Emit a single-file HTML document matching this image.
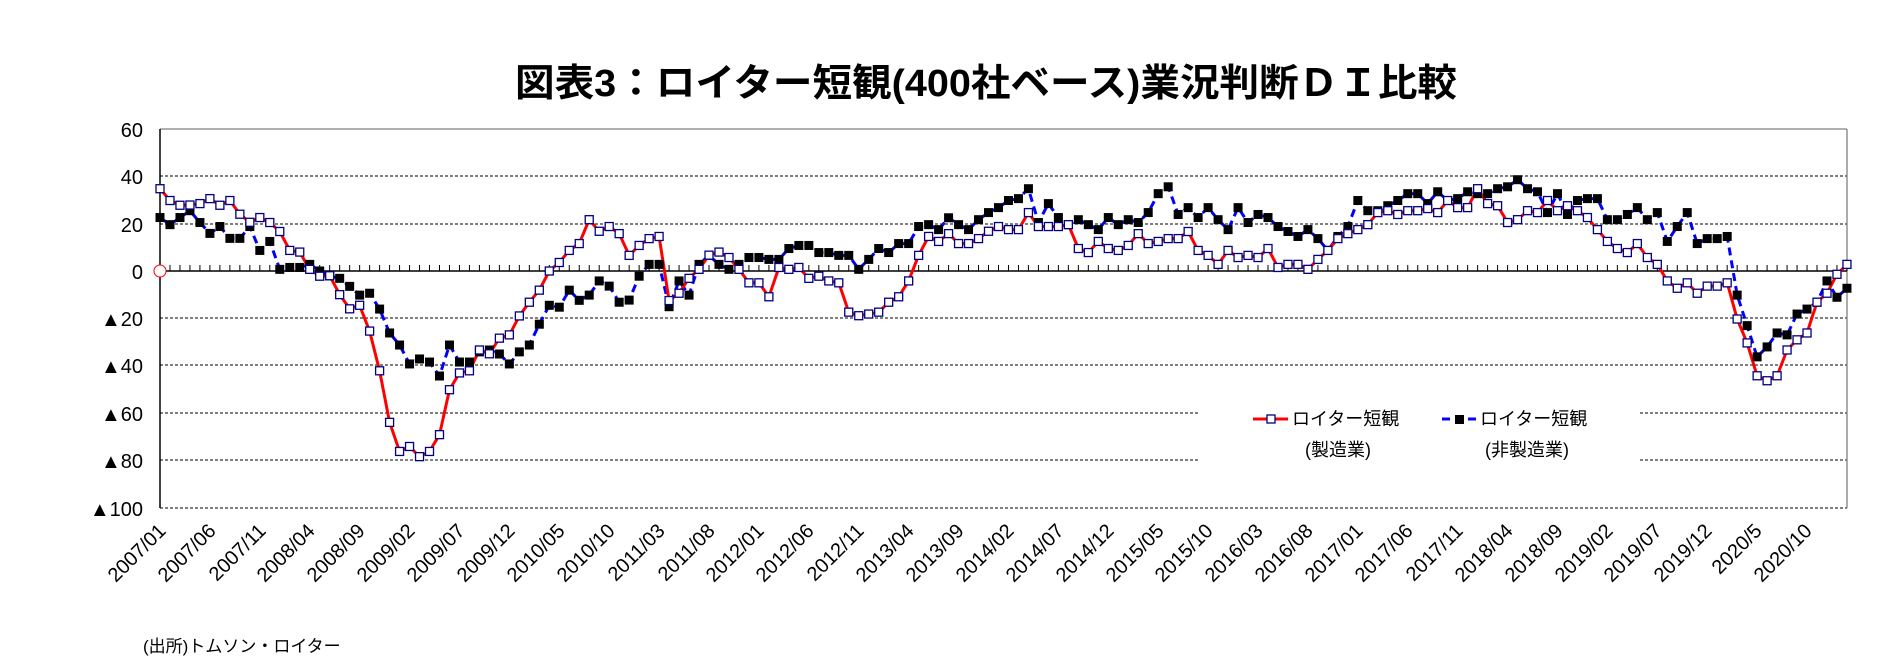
<!DOCTYPE html>
<html><head><meta charset="utf-8"><style>
html,body{margin:0;padding:0;background:#fff;}
svg{display:block;}
text{font-family:"Liberation Sans","Noto Sans CJK JP",sans-serif;}
</style></head><body>
<svg id="c" width="1887" height="658" viewBox="0 0 1887 658" xmlns="http://www.w3.org/2000/svg">
<rect width="1887" height="658" fill="#fff"/>
<text x="515" y="96" font-size="38" font-weight="bold" textLength="942" lengthAdjust="spacingAndGlyphs">図表3：ロイター短観(400社ベース)業況判断ＤＩ比較</text>
<g stroke="#000" stroke-width="1" stroke-dasharray="3,2">
<line x1="160" y1="176" x2="1847" y2="176"/>
<line x1="160" y1="224" x2="1847" y2="224"/>
<line x1="160" y1="318" x2="1847" y2="318"/>
<line x1="160" y1="365" x2="1847" y2="365"/>
<line x1="160" y1="413" x2="1847" y2="413"/>
<line x1="160" y1="460" x2="1847" y2="460"/>
<line x1="160" y1="508" x2="1847" y2="508"/>
</g>
<rect x="1200" y="400" width="440" height="75" fill="#fff"/>
<line x1="160" y1="129" x2="1847" y2="129" stroke="#808080" stroke-width="1.3"/>
<line x1="1847" y1="129" x2="1847" y2="508" stroke="#808080" stroke-width="1.3"/>
<line x1="160" y1="129" x2="160" y2="508" stroke="#000" stroke-width="1.5"/>
<line x1="160" y1="271" x2="1847" y2="271" stroke="#000" stroke-width="1.5"/>
<g id="ticks" stroke="#000" stroke-width="1"></g>
<g font-size="20" text-anchor="end" fill="#000">
<text x="143" y="137">60</text>
<text x="143" y="184">40</text>
<text x="143" y="232">20</text>
<text x="143" y="279">0</text>
<text x="143" y="326">▲20</text>
<text x="143" y="373">▲40</text>
<text x="143" y="421">▲60</text>
<text x="143" y="468">▲80</text>
<text x="143" y="516">▲100</text>
</g>
<g id="series"></g>
<circle cx="160" cy="271" r="6" fill="#fff" stroke="#f00" stroke-width="1"/>
<g font-size="20" text-anchor="end" fill="#000" id="xl">
<text transform="translate(167,532) rotate(-45)">2007/01</text>
<text transform="translate(217,532) rotate(-45)">2007/06</text>
<text transform="translate(267,532) rotate(-45)">2007/11</text>
<text transform="translate(316,532) rotate(-45)">2008/04</text>
<text transform="translate(366,532) rotate(-45)">2008/09</text>
<text transform="translate(416,532) rotate(-45)">2009/02</text>
<text transform="translate(466,532) rotate(-45)">2009/07</text>
<text transform="translate(516,532) rotate(-45)">2009/12</text>
<text transform="translate(566,532) rotate(-45)">2010/05</text>
<text transform="translate(616,532) rotate(-45)">2010/10</text>
<text transform="translate(666,532) rotate(-45)">2011/03</text>
<text transform="translate(716,532) rotate(-45)">2011/08</text>
<text transform="translate(765,532) rotate(-45)">2012/01</text>
<text transform="translate(815,532) rotate(-45)">2012/06</text>
<text transform="translate(865,532) rotate(-45)">2012/11</text>
<text transform="translate(915,532) rotate(-45)">2013/04</text>
<text transform="translate(965,532) rotate(-45)">2013/09</text>
<text transform="translate(1015,532) rotate(-45)">2014/02</text>
<text transform="translate(1065,532) rotate(-45)">2014/07</text>
<text transform="translate(1115,532) rotate(-45)">2014/12</text>
<text transform="translate(1165,532) rotate(-45)">2015/05</text>
<text transform="translate(1214,532) rotate(-45)">2015/10</text>
<text transform="translate(1264,532) rotate(-45)">2016/03</text>
<text transform="translate(1314,532) rotate(-45)">2016/08</text>
<text transform="translate(1364,532) rotate(-45)">2017/01</text>
<text transform="translate(1414,532) rotate(-45)">2017/06</text>
<text transform="translate(1464,532) rotate(-45)">2017/11</text>
<text transform="translate(1514,532) rotate(-45)">2018/04</text>
<text transform="translate(1564,532) rotate(-45)">2018/09</text>
<text transform="translate(1614,532) rotate(-45)">2019/02</text>
<text transform="translate(1663,532) rotate(-45)">2019/07</text>
<text transform="translate(1713,532) rotate(-45)">2019/12</text>
<text transform="translate(1763,532) rotate(-45)">2020/5</text>
<text transform="translate(1813,532) rotate(-45)">2020/10</text>
</g>
<g font-size="18" fill="#000">
<line x1="1253" y1="419" x2="1288" y2="419" stroke="#f00" stroke-width="3"/>
<rect x="1267" y="415" width="8" height="8" fill="#fff" stroke="#000080" stroke-width="1.3"/>
<text x="1292" y="425">ロイター短観</text>
<text x="1338" y="456" text-anchor="middle">(製造業)</text>
<line x1="1442" y1="419" x2="1476" y2="419" stroke="#00f" stroke-width="3" stroke-dasharray="8,5"/>
<rect x="1455" y="415" width="9" height="9" fill="#000"/>
<text x="1480" y="425">ロイター短観</text>
<text x="1527" y="456" text-anchor="middle">(非製造業)</text>
</g>
<text x="143" y="652" font-size="17" fill="#000">(出所)トムソン・ロイター</text>
</svg>
<script>
var M=[34.8,29.8,27.8,27.9,28.5,30.6,27.8,29.8,24,20.6,22.6,20.5,16.7,8.7,8,0.7,-2.2,-2,-10,-16,-14.5,-25.4,-42.2,-64,-76.3,-74.2,-78.5,-76.3,-69.2,-50.2,-43.1,-42.2,-33.4,-35,-28.4,-27,-19,-13.2,-8.1,0,3.6,8.7,11.6,
21.7,16.8,18.8,15.8,6.6,10.8,13.7,14.6,-12.5,-9.4,-3.1,0.7,6.7,8,5.7,0.7,-5,-5,-10.9,1.5,0.7,1.5,-3.1,-2.2,-4.2,-5,-17.4,-18.9,-18.2,-17.4,-13.2,-10.9,-4.2,6.6,14.6,12.5,15.8,11.6,11.6,13.7,16.8,18.8,
17.5,17.5,24.7,18.8,18.8,18.8,19.6,9.5,7.8,12.5,9.5,8.7,10.8,15.8,11.6,12.5,13.7,13.7,16.7,8.7,6.6,2.8,8.7,5.7,6.6,5.7,9.5,1.5,2.8,2.8,0.7,4.9,8.7,13.7,15.8,17.5,19.6,24.7,25.5,23.9,25.5,25.5,
26.4,24.7,29.8,26.8,26.8,34.8,28.5,27.6,20.5,21.7,25.5,24.7,29.8,25.5,27.6,25.5,22.6,17.5,12.5,9.5,7.8,11.6,5.7,2.8,-4.2,-7.3,-5,-9.4,-6.4,-6.4,-5,-20.3,-30.4,-44.3,-46.4,-44.3,-33.4,-29.1,-26.2,-13.2,-9.4,-1.4,2.8];
var N=[22.6,19.6,22.6,25.5,20.5,15.9,18.8,13.8,13.8,18.8,8.7,12.5,0.7,1.5,1.5,2.8,0,-2.1,-3.1,-6.5,-10.2,-9.4,-16.1,-26.2,-31.3,-39.3,-37.2,-38.5,-44.4,-31.3,-38.5,-38.5,-34.2,-33.4,-35.1,-39.3,-34.2,-31.3,-22.5,-14.5,-15.3,-8.1,-12.4,
-10.2,-4.2,-6.4,-13.2,-12.3,-2.2,2.8,2.8,-15.1,-4.2,-10.2,2.8,6.6,2.8,0.7,2.8,5.7,5.7,4.9,4.9,9.5,10.8,10.8,7.8,7.8,6.6,6.6,0.7,4.9,9.5,7.8,11.6,11.6,18.8,19.6,17.5,22.5,19.6,17.5,21.7,24.7,26.8,
29.8,30.6,34.8,20.5,28.5,22.6,19.6,21.7,19.6,17.5,22.6,19.6,21.7,20.5,24.7,32.7,35.6,23.9,26.8,22.6,26.8,21.7,17.5,26.8,20.5,23.9,22.6,18.8,16.7,14.6,17.5,13.7,8.7,14.6,18.8,29.8,25.5,25.5,27.6,29.8,32.7,32.7,
28.5,33.5,29.8,30.6,33.5,32.7,32.7,34.8,35.6,38.6,34.8,33.5,24.7,32.7,23.9,29.8,30.6,30.6,21.7,21.7,23.9,26.8,21.7,24.7,12.5,18.8,24.7,11.6,13.7,13.7,14.6,-10.2,-23.1,-36.3,-32.1,-26.2,-27,-18.2,-16.1,-13.2,-4.2,-11.1,-7.3];
var NS="http://www.w3.org/2000/svg";
function X(i){return 160+i*9.982;}function Y(v){return 271-v*2.365;}
var t=document.getElementById("ticks");
for(var i=0;i<170;i++){var l=document.createElementNS(NS,"line");l.setAttribute("x1",X(i));l.setAttribute("x2",X(i));l.setAttribute("y1",265);l.setAttribute("y2",271);t.appendChild(l);}
var g=document.getElementById("series");
function pl(d,col,dash){var p="";for(var i=0;i<d.length;i++)p+=X(i).toFixed(1)+","+Y(d[i]).toFixed(1)+" ";var e=document.createElementNS(NS,"polyline");e.setAttribute("points",p);e.setAttribute("fill","none");e.setAttribute("stroke",col);e.setAttribute("stroke-width","3");if(dash)e.setAttribute("stroke-dasharray",dash);g.appendChild(e);}
pl(N,"#00f","8,5");pl(M,"#f00",null);
for(var i=0;i<N.length;i++){var r=document.createElementNS(NS,"rect");r.setAttribute("x",X(i)-4.5);r.setAttribute("y",Y(N[i])-4.5);r.setAttribute("width",9);r.setAttribute("height",9);r.setAttribute("fill","#000");g.appendChild(r);}
for(var i=0;i<M.length;i++){var r=document.createElementNS(NS,"rect");r.setAttribute("x",X(i)-4);r.setAttribute("y",Y(M[i])-4);r.setAttribute("width",8);r.setAttribute("height",8);r.setAttribute("fill","#fff");r.setAttribute("stroke","#000080");r.setAttribute("stroke-width","1.3");g.appendChild(r);}
</script>
</body></html>
